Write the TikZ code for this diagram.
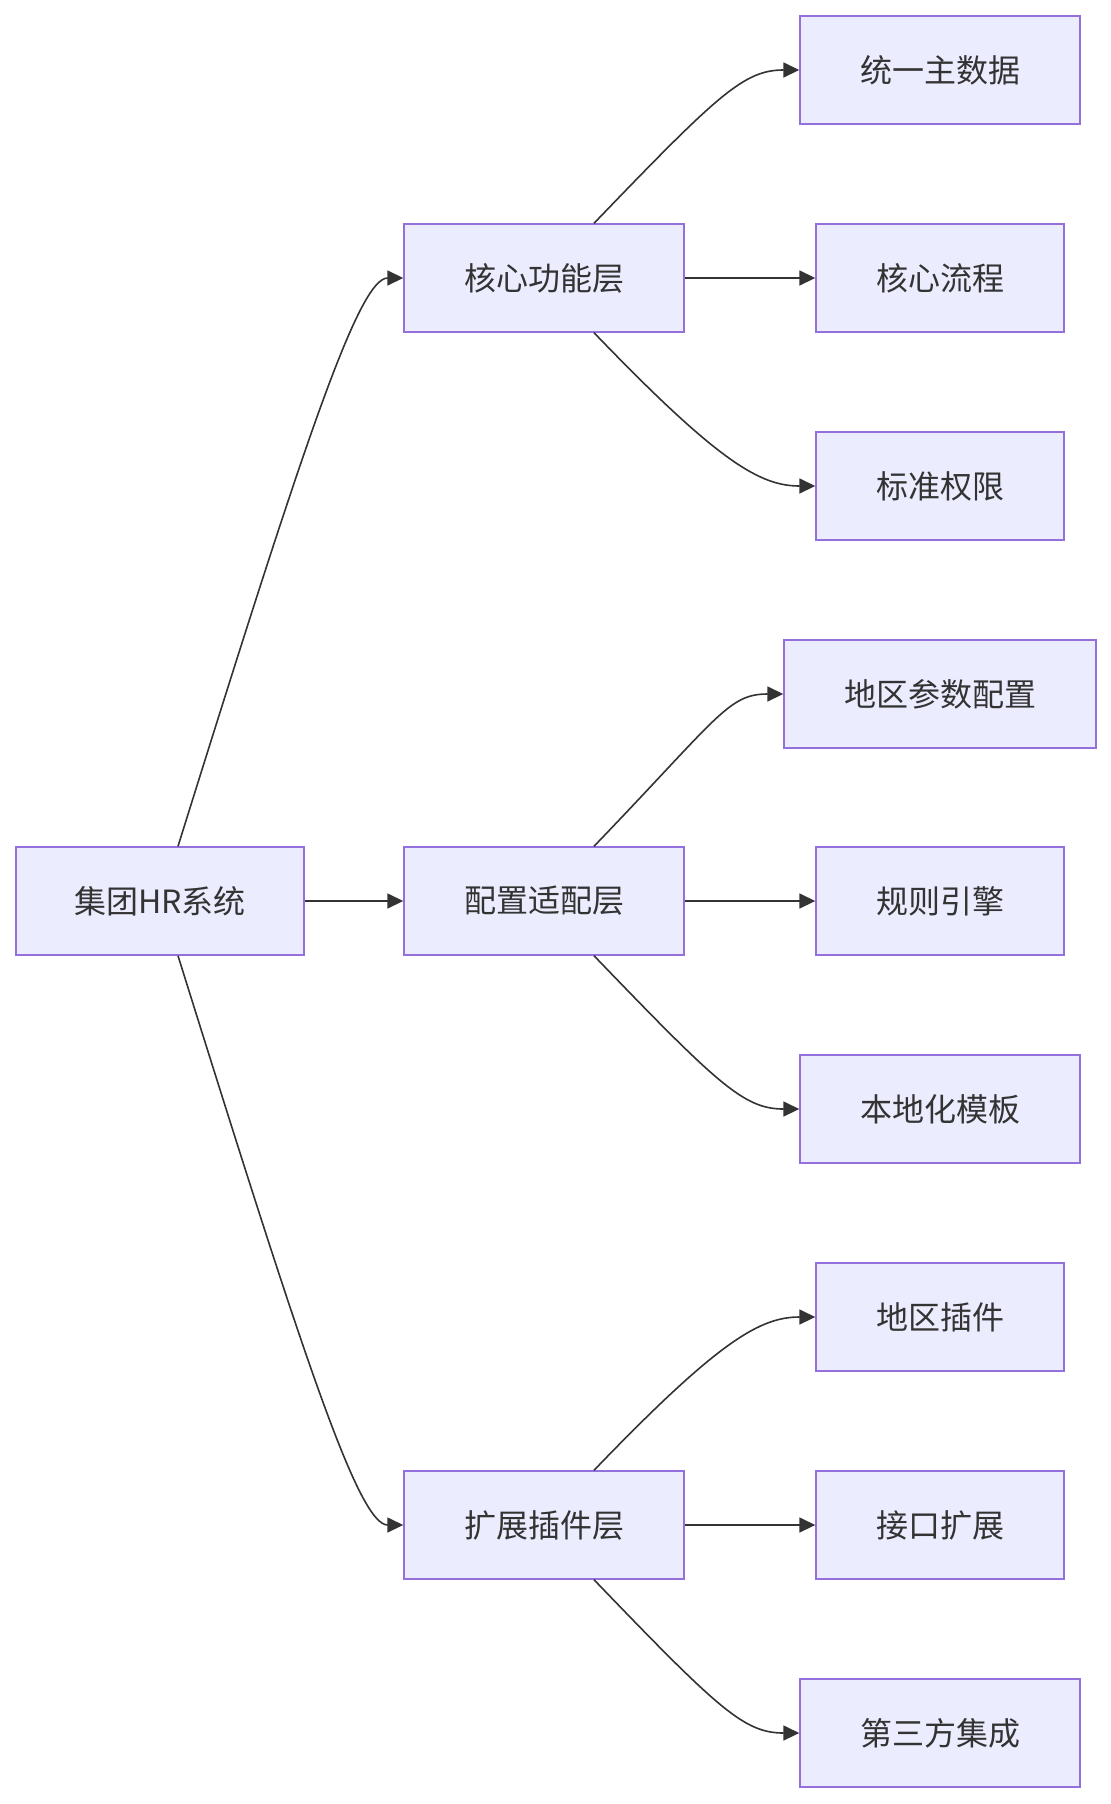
\documentclass[tikz,border=0pt]{standalone}
\usepackage{fontspec}
\newfontfamily\cjk{Noto Sans CJK SC}
\usetikzlibrary{arrows.meta}
\definecolor{boxfill}{HTML}{ECECFF}
\definecolor{boxline}{HTML}{9370DB}
\definecolor{ink}{HTML}{333333}

\begin{document}
\begin{tikzpicture}[
  x=0.5pt, y=-0.5pt,
  font=\cjk\fontsize{16}{19}\selectfont,
  box/.style={draw=boxline, fill=boxfill, line width=0.7pt, text=ink, inner xsep=30pt, minimum height=54pt},
  link/.style={draw=ink, line width=0.8pt},
  >={Triangle[length=8pt, width=7.5pt]},
]
\useasboundingbox (0,0) rectangle (1111,1804);

\node[box, inner xsep=29pt] (hr) at (160,901) {集团HR系统};

\node[box] (core) at (544,278) {核心功能层};
\node[box] (conf) at (544,901) {配置适配层};
\node[box] (ext) at (544,1525) {扩展插件层};

\node[box] (master) at (940,70) {统一主数据};
\node[box] (flow) at (940,278) {核心流程};
\node[box] (perm) at (940,486) {标准权限};
\node[box] (region) at (940,694) {地区参数配置};
\node[box] (rules) at (940,901) {规则引擎};
\node[box] (tmpl) at (940,1109) {本地化模板};
\node[box] (plugin) at (940,1317) {地区插件};
\node[box] (api) at (940,1525) {接口扩展};
\node[box] (third) at (940,1733) {第三方集成};

% root to layers
\draw[link, ->] ([xshift=9pt]hr.north) .. controls +(125,-400) and +(-45,0) .. (core.west);
\draw[link, ->] (hr) -- (conf);
\draw[link, ->] ([xshift=9pt]hr.south) .. controls +(125,400) and +(-45,0) .. (ext.west);

% layers to leaves
\draw[link, ->] ([xshift=25pt]core.north) .. controls +(125,-130) and +(-55,0) .. (master.west);
\draw[link, ->] (core) -- (flow);
\draw[link, ->] ([xshift=25pt]core.south) .. controls +(125,130) and +(-55,0) .. (perm.west);

\draw[link, ->] ([xshift=25pt]conf.north) .. controls +(125,-130) and +(-55,0) .. (region.west);
\draw[link, ->] (conf) -- (rules);
\draw[link, ->] ([xshift=25pt]conf.south) .. controls +(125,130) and +(-55,0) .. (tmpl.west);

\draw[link, ->] ([xshift=25pt]ext.north) .. controls +(125,-130) and +(-55,0) .. (plugin.west);
\draw[link, ->] (ext) -- (api);
\draw[link, ->] ([xshift=25pt]ext.south) .. controls +(125,130) and +(-55,0) .. (third.west);
\end{tikzpicture}
\end{document}
